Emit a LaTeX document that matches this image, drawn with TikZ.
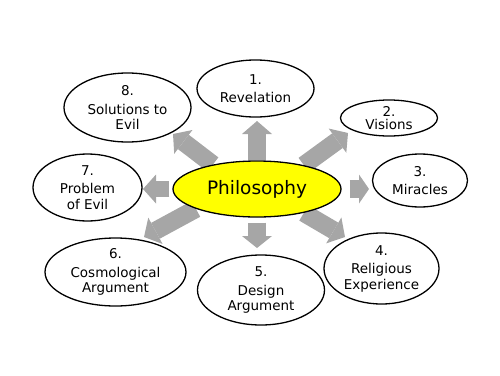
\documentclass[tikz,border=0pt]{standalone}
\usepackage{fontspec}
\setmainfont{DejaVu Sans}
\usetikzlibrary{shapes.geometric,arrows.meta}
\pgfdeclarelayer{bg}
\pgfsetlayers{bg,main}
\definecolor{arrowgray}{RGB}{166,166,166}
\definecolor{philyellow}{RGB}{255,255,0}
\begin{document}
\begin{tikzpicture}[x=1pt,y=-1pt,
  topic/.style={ellipse, draw=black, line width=1.3pt, fill=white, inner sep=0pt},
  txt/.style={font=\fontsize{13.5}{15.5}\selectfont, align=center, inner sep=0pt},
  bigarrow/.style={draw=arrowgray, line width=18pt, -{Triangle[width=30pt,length=13pt,line width=0pt]}}]
\path[use as bounding box] (0,0) rectangle (500,375);
\node[topic, fill=philyellow, minimum width=168pt, minimum height=56pt, font=\fontsize{18.5}{22}\selectfont] (phil) at (257,189) {Philosophy};
\node[topic, minimum width=117pt, minimum height=57pt, label={[txt]center:{1.\\[3pt]Revelation}}] (n1) at (255.5,88.5) {};
\node[topic, minimum width=97pt, minimum height=36pt, label={[txt]center:{2.\\[-2pt]Visions}}] (n2) at (389,118) {};
\node[topic, minimum width=95pt, minimum height=53pt, label={[txt]center:{3.\\[3pt]Miracles}}] (n3) at (420,180.5) {};
\node[topic, minimum width=115pt, minimum height=71pt, label={[txt]center:{4.\\[3pt]Religious\\Experience}}] (n4) at (381.5,268.5) {};
\node[topic, minimum width=127pt, minimum height=70pt, label={[txt]center:{5.\\[3pt]Design\\Argument}}] (n5) at (261,290) {};
\node[topic, minimum width=141pt, minimum height=68pt, label={[txt]center:{6.\\[3pt]Cosmological\\Argument}}] (n6) at (115.5,272) {};
\node[topic, minimum width=109pt, minimum height=67pt, label={[txt]center:{7.\\[3pt]Problem\\of Evil}}] (n7) at (87.5,187.5) {};
\node[topic, minimum width=127pt, minimum height=69pt, label={[txt]center:{8.\\[3pt]Solutions to\\Evil}}] (n8) at (127.5,107.5) {};
\coordinate (a1) at (257,121);
\coordinate (a2) at (348,133);
\coordinate (a3) at (369,189);
\coordinate (a4) at (345,237);
\coordinate (a5) at (257,248);
\coordinate (a6) at (144,237);
\coordinate (a7) at (143,189);
\coordinate (a8) at (173,134);
\begin{pgfonlayer}{bg}
\draw[bigarrow] (phil.90) -- (a1);
\draw[bigarrow] (phil.27) -- (a2);
\draw[bigarrow, shorten <=8pt, -{Triangle[width=29pt,length=10pt,line width=0pt]}] (phil.0) -- (a3);
\draw[bigarrow] (phil.333) -- (a4);
\draw[bigarrow, shorten <=5pt, -{Triangle[width=30pt,length=12pt,line width=0pt]}] (phil.270) -- (a5);
\draw[bigarrow] (phil.198) -- (a6);
\draw[bigarrow, line width=16pt, shorten <=3pt, -{Triangle[width=29pt,length=13pt,line width=0pt]}] (phil.180) -- (a7);
\draw[bigarrow] (phil.151) -- (a8);
\end{pgfonlayer}
\end{tikzpicture}
\end{document}
